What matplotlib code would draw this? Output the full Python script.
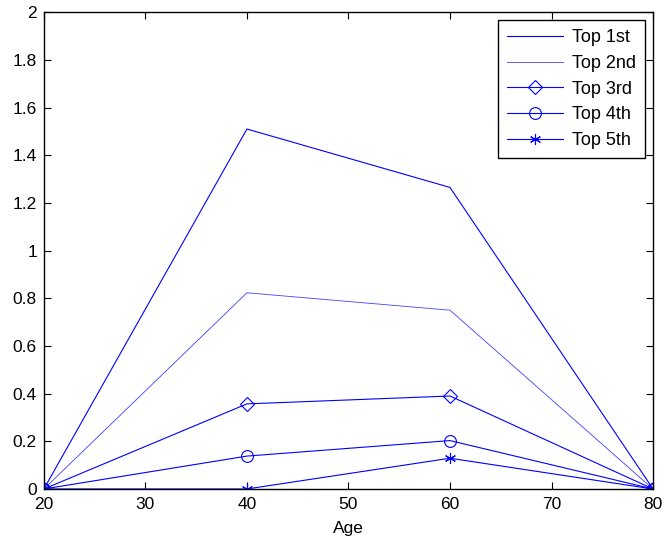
import matplotlib
matplotlib.use("Agg")
import matplotlib.pyplot as plt
from matplotlib.ticker import FuncFormatter

plt.rcParams['font.family'] = ['Liberation Sans', 'DejaVu Sans']

age = [20, 40, 60, 80]
top1 = [0, 1.51, 1.265, 0]
top2 = [0, 0.823, 0.75, 0]
top3 = [0, 0.357, 0.39, 0]
top4 = [0, 0.138, 0.203, 0]
top5 = [0, 0, 0.129, 0]
labels = ['Top 1st', 'Top 2nd', 'Top 3rd', 'Top 4th', 'Top 5th']

fig = plt.figure(figsize=(6.65, 5.48), dpi=100)
ax = fig.add_axes([0.066, 0.1077, 0.916, 0.87])

blue = '#0000ff'
ax.plot(age, top1, color=blue, lw=0.8, label=labels[0])
ax.plot(age, top2, color=blue, lw=0.6, alpha=0.75, label=labels[1])
ax.plot(age, top3, color=blue, lw=0.8, marker='D', ms=7.5, mfc='none', mec=blue, mew=0.8, label=labels[2])
ax.plot(age, top4, color=blue, lw=0.8, marker='o', ms=8.5, mfc='none', mec=blue, mew=0.8, label=labels[3])
ax.plot(age, top5, color=blue, lw=0.8, marker=(6, 2, 0), ms=8, mec=blue, mew=0.8, label=labels[4])

ax.set_xlim(20, 80)
ax.set_ylim(0, 2)
ax.set_xticks(range(20, 81, 10))
ax.set_yticks([i * 0.2 for i in range(11)])
ax.yaxis.set_major_formatter(FuncFormatter(lambda v, p: '%g' % round(v, 1)))
ax.tick_params(direction='in', top=True, right=True, length=5, width=0.8,
               labelsize=12.5)
ax.tick_params(axis='x', pad=6)
ax.tick_params(axis='y', pad=5)
for s in ax.spines.values():
    s.set_linewidth(1.0)
ax.set_xlabel('Age', fontsize=12.5, labelpad=6)

leg = ax.legend(loc='upper right', fontsize=13, fancybox=False, framealpha=1,
                edgecolor='black', borderaxespad=0.45, handlelength=3.1,
                labelspacing=0.48, borderpad=0.5, handletextpad=0.5)
leg.get_frame().set_linewidth(1.0)

fig.savefig('out.png', dpi=100)
